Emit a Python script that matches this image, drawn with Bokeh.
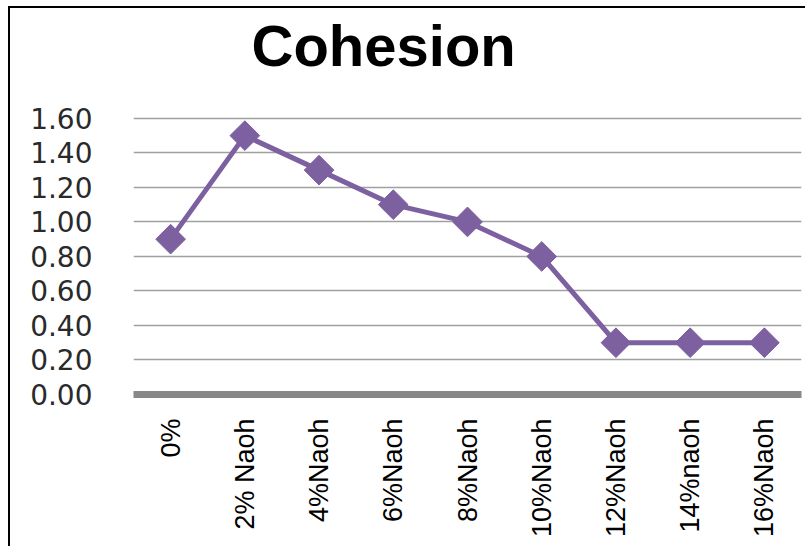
import math
from bokeh.plotting import figure
from bokeh.embed import file_html
from bokeh.resources import INLINE
from bokeh.models import FixedTicker, ColumnDataSource, CustomJSTickFormatter, Label

categories = ["0%", "2% Naoh", "4%Naoh", "6%Naoh", "8%Naoh", "10%Naoh", "12%Naoh", "14%naoh", "16%Naoh"]
cohesion = [0.90, 1.50, 1.30, 1.10, 1.00, 0.80, 0.30, 0.30, 0.30]
y_ticks = [0.0, 0.2, 0.4, 0.6, 0.8, 1.0, 1.2, 1.4, 1.6]
title_text = "Cohesion"

PURPLE = "#7d60a0"

# frame extends to the top of the chart box so the title can sit inside it
p = figure(x_range=categories, y_range=(0, 2.2365), width=797, height=540,
           output_backend="svg", toolbar_location=None,
           min_border_left=123, min_border_right=6, min_border_top=0, min_border_bottom=154)
p.margin = (6, 0, 0, 8)
p.styles = {"border-top": "2px solid black", "border-left": "2px solid black"}

lbl = Label(x=1.59, y=2.02, text=title_text,
            text_font="Liberation Sans", text_font_style="bold", text_font_size="58px",
            text_color="black", text_baseline="alphabetic", text_align="left")
p.add_layout(lbl)

p.outline_line_color = None
p.background_fill_color = "white"
p.border_fill_color = "white"

src = ColumnDataSource(dict(x=categories, y=cohesion))
p.line("x", "y", source=src, line_color=PURPLE, line_width=5)
p.scatter("x", "y", source=src, marker="square", size=21, angle=math.pi / 4,
          fill_color=PURPLE, line_color=PURPLE)

p.xgrid.grid_line_color = None
p.ygrid.grid_line_color = "#a0a0a0"
p.ygrid.grid_line_width = 1.5
p.yaxis.ticker = FixedTicker(ticks=y_ticks)
p.yaxis.formatter = CustomJSTickFormatter(code="return tick.toFixed(2);")
p.yaxis.axis_line_color = None
p.yaxis.major_tick_line_color = None
p.yaxis.minor_tick_line_color = None
p.yaxis.major_label_text_font = "DejaVu Sans"
p.yaxis.major_label_text_font_size = "28px"
p.yaxis.major_label_text_color = "#2a2a2a"
p.yaxis.major_label_standoff = 35

p.xaxis.axis_line_color = "#888888"
p.xaxis.axis_line_width = 7
p.xaxis.major_tick_line_color = None
p.xaxis.minor_tick_line_color = None
p.xaxis.major_label_orientation = math.pi / 2
p.xaxis.major_label_text_font = "Liberation Sans"
p.xaxis.major_label_text_font_size = "27px"
p.xaxis.major_label_text_color = "black"
p.xaxis.major_label_standoff = 18

open("out.html", "w").write(file_html(p, INLINE))
